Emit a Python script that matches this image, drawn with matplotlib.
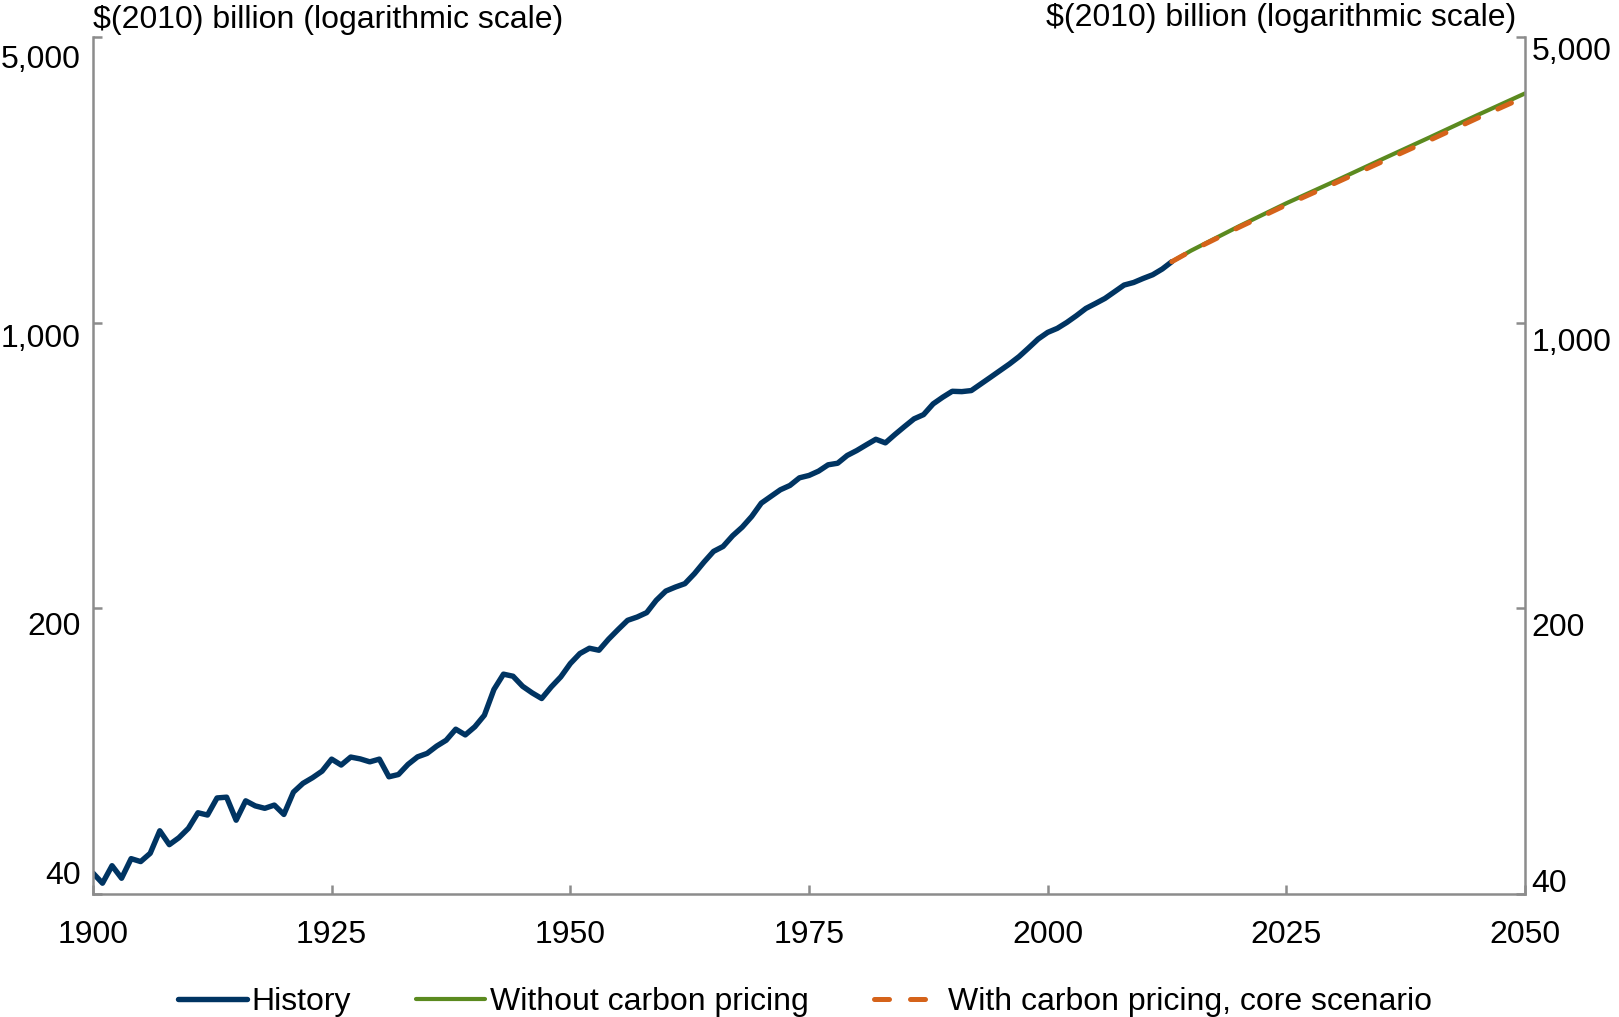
import matplotlib
matplotlib.use("Agg")
import matplotlib.pyplot as plt
import matplotlib.transforms as mtransforms
import numpy as np

plt.rcParams['font.family'] = ['Liberation Sans', 'DejaVu Sans']

# history, $(2010) billion
hist_years = np.arange(1900, 2014)
hist_values = [
    45.0, 42.5, 46.9, 43.7, 48.8, 48.0, 50.3, 57.1, 52.8, 54.9,
    57.9, 63.2, 62.4, 68.7, 69.0, 60.6, 67.6, 65.7, 64.8, 66.0,
    62.6, 71.0, 74.6, 77.0, 79.9, 85.5, 82.7, 86.5, 85.6, 84.2,
    85.5, 77.4, 78.4, 83.0, 86.6, 88.3, 92.0, 95.1, 101.2, 98.0,
    102.6, 109.5, 126.6, 138.0, 136.4, 128.9, 124.2, 120.3, 128.4, 135.9,
    146.5, 155.0, 159.7, 157.9, 168.0, 177.4, 186.9, 190.4, 195.2, 209.2,
    220.4, 225.4, 229.8, 243.1, 259.5, 275.6, 283.4, 301.0, 315.9, 335.6,
    361.7, 375.6, 390.0, 399.6, 417.2, 422.8, 433.2, 448.9, 452.9, 473.2,
    486.5, 502.4, 518.4, 508.0, 532.5, 556.9, 581.6, 595.7, 632.8, 656.9,
    679.3, 678.0, 682.1, 708.0, 734.9, 763.2, 792.5, 826.0, 867.3, 912.0,
    946.7, 968.4, 1001.2, 1040.0, 1083.5, 1114.0, 1146.5, 1190.3, 1236.0, 1254.0,
    1283.0, 1310.0, 1353.0, 1410.0,
]

proj_years = [2013, 2015, 2020, 2025, 2030, 2035, 2040, 2045, 2050]
no_carbon = [1410, 1500, 1720, 1960, 2215, 2510, 2840, 3220, 3640]
with_carbon = [1410, 1497, 1710, 1942, 2190, 2475, 2795, 3165, 3570]

y_ticks = [40, 200, 1000, 5000]
y_labels = ['40', '200', '1,000', '5,000']
x_ticks = [1900, 1925, 1950, 1975, 2000, 2025, 2050]

navy = '#003462'
green = '#5b8a1f'
orange = '#d5631a'
grey = '#8c8c8c'

fig = plt.figure(figsize=(16.19, 10.17), dpi=100)
ax = fig.add_axes([0.0574, 0.121, 0.8846, 0.8426])

ax.plot(hist_years, hist_values, color=navy, lw=3.9, label='History',
        solid_joinstyle='round', solid_capstyle='round')
ax.plot(proj_years, no_carbon, color=green, lw=3.0, label='Without carbon pricing',
        solid_capstyle='round')
ax.plot(proj_years, with_carbon, color=orange, lw=3.6, dashes=(3.0, 4.2),
        dash_capstyle='round', label='With carbon pricing, core scenario')

ax.set_yscale('log')
ax.set_ylim(40, 5000)
ax.set_xlim(1900, 2050)
ax.set_yticks(y_ticks)
ax.set_yticklabels(y_labels)
ax.yaxis.set_minor_locator(matplotlib.ticker.NullLocator())
ax.set_xticks(x_ticks)

for s in ['left', 'right', 'bottom']:
    ax.spines[s].set_color(grey)
    ax.spines[s].set_linewidth(1.8)
ax.spines['top'].set_visible(False)

ax.tick_params(axis='both', direction='in', length=6.5, width=1.8, color=grey,
               labelsize=23, labelcolor='black')
ax.tick_params(axis='y', left=True, right=True, labelleft=True, labelright=True)
ax.tick_params(axis='y', which='major', pad=9)
ax.tick_params(axis='x', pad=18.5)

# label offsets (points) as placed in the source chart
left_off = [15.5, -11.3, -9.1, -13.7]
right_off = [9.6, -12.0, -12.0, -8.4]
ticks = ax.yaxis.get_major_ticks()
for t, lo, ro in zip(ticks, left_off, right_off):
    t.label1.set_transform(t.label1.get_transform() +
                           mtransforms.ScaledTranslation(0, lo / 72, fig.dpi_scale_trans))
    t.label2.set_transform(t.label2.get_transform() +
                           mtransforms.ScaledTranslation(-4.5 / 72, ro / 72, fig.dpi_scale_trans))

fig.text(0.0574, 0.9803, '$(2010) billion (logarithmic scale)', fontsize=23,
         ha='left', va='center')
fig.text(0.9365, 0.9823, '$(2010) billion (logarithmic scale)', fontsize=23,
         ha='right', va='center')

fig.legend(loc='center', bbox_to_anchor=(0.497, 0.0145), ncol=3, frameon=False,
           fontsize=23, handlelength=2.16, handletextpad=0.16, columnspacing=2.03,
           borderpad=0, borderaxespad=0)

fig.savefig('out.png', dpi=100)
